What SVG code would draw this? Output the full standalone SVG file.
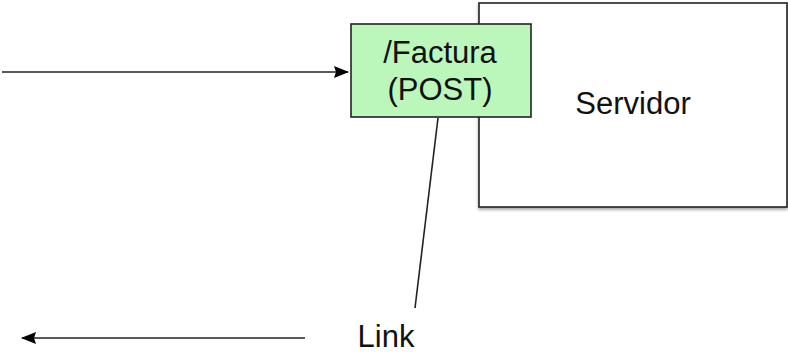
<svg xmlns="http://www.w3.org/2000/svg" width="788" height="356" viewBox="0 0 788 356">
<style>
.t{font-family:"Liberation Sans",Arial,sans-serif;font-size:31px;fill:#111;text-anchor:middle}
.c{stroke:#222;stroke-width:1.6;fill:none}
</style>
<defs>
<marker id="ah" viewBox="0 0 15 12" refX="14" refY="6" markerWidth="15" markerHeight="12" markerUnits="userSpaceOnUse" orient="auto">
<path d="M0,0 L15,6 L0,12 L2,6 Z" fill="#000"/>
</marker>
<filter id="sh" x="-5%" y="-5%" width="110%" height="115%"><feDropShadow dx="0" dy="2" stdDeviation="1.5" flood-color="#000" flood-opacity="0.35"/></filter>
</defs>
<g id="servidor">
<rect x="479" y="3" width="308" height="204" fill="#fff" stroke="#222" stroke-width="1.6" filter="url(#sh)"/>
<text class="t" x="633" y="114">Servidor</text>
</g>
<g id="factura">
<rect x="351" y="24" width="180" height="93" fill="#bbf7bb" stroke="#222" stroke-width="1.6"/>
<text class="t" x="440" y="63">/Factura</text>
<text class="t" x="440" y="100">(POST)</text>
</g>
<g id="link">
<text class="t" x="386" y="347">Link</text>
</g>
<g id="connectors">
<line class="c" x1="2" y1="72" x2="348" y2="72" marker-end="url(#ah)"/>
<line class="c" x1="305" y1="338" x2="22" y2="338" marker-end="url(#ah)"/>
<line class="c" x1="438" y1="118" x2="415" y2="308"/>
</g>
</svg>
